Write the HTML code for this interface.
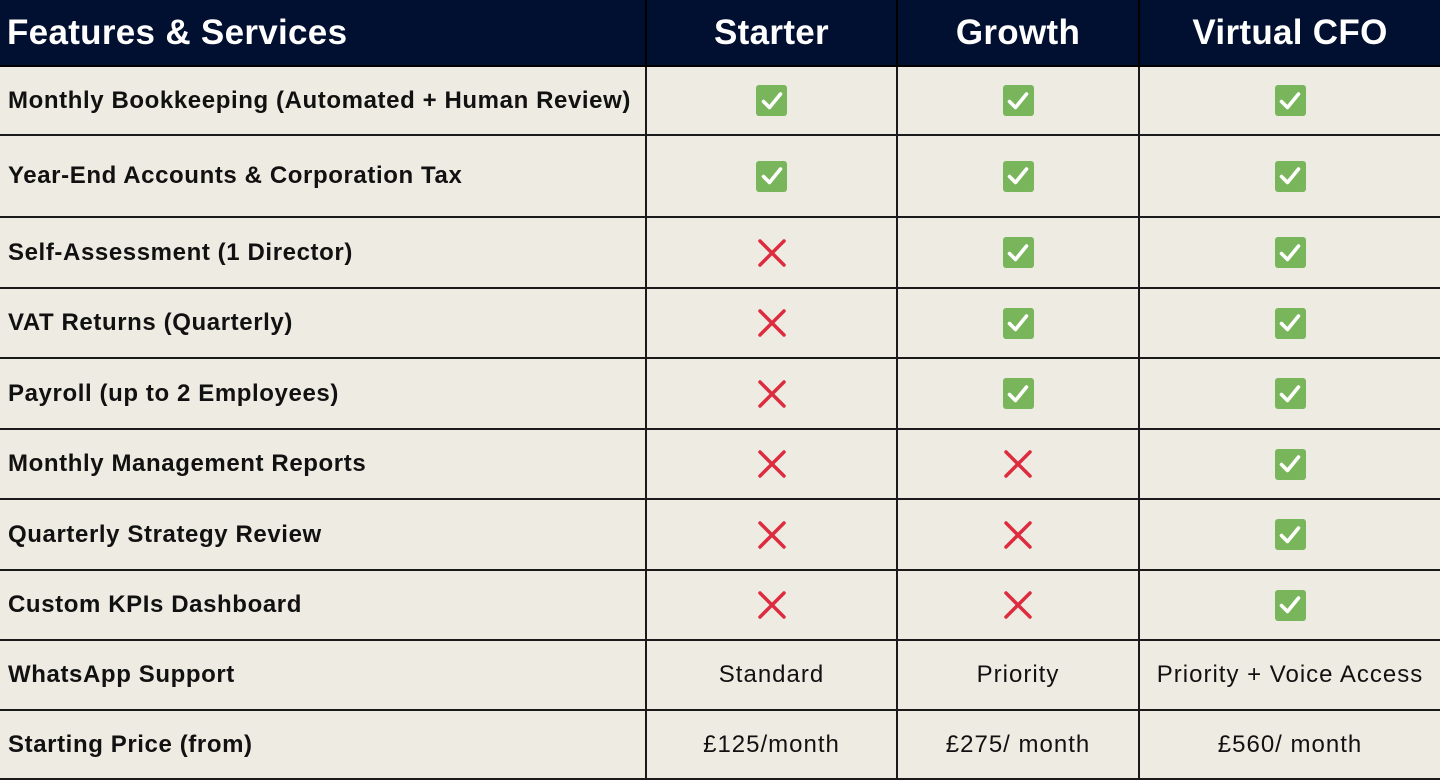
<!DOCTYPE html>
<html><head><meta charset="utf-8"><style>
body{margin:0;width:1440px;height:780px;background:#eeebe3;font-family:"Liberation Sans",sans-serif;overflow:hidden;position:relative}
.c{position:absolute;box-sizing:border-box;display:flex;align-items:center;border-right:2px solid #1a1a1a;border-bottom:2px solid #1a1a1a}
.h{background:#010f30;color:#fff;font-weight:bold;font-size:35px;border-color:#000}
.lbl{font-weight:bold;font-size:24px;letter-spacing:0.6px;color:#111;padding-left:8px}
.val{justify-content:center;font-size:24px;letter-spacing:1px;color:#111}
.chk{width:31px;height:31px;background:#79b55a;border-radius:3px;display:flex;align-items:center;justify-content:center}
</style></head><body>
<script>
const cols=["Features & Services","Starter","Growth","Virtual CFO"];
const features=["Monthly Bookkeeping (Automated + Human Review)","Year-End Accounts & Corporation Tax","Self-Assessment (1 Director)","VAT Returns (Quarterly)","Payroll (up to 2 Employees)","Monthly Management Reports","Quarterly Strategy Review","Custom KPIs Dashboard","WhatsApp Support","Starting Price (from)"];
const starter=[1,1,0,0,0,0,0,0,"Standard","£125/month"];
const growth=[1,1,1,1,1,0,0,0,"Priority","£275/ month"];
const cfo=[1,1,1,1,1,1,1,1,"Priority + Voice Access","£560/ month"];
const xs=[0,647,898,1140,1440];
const ys=[0,67,136,218,289,359,430,500,571,641,711,780];
const check='<svg width="22" height="20" viewBox="0 0 22 20"><path d="M2.5 10.5 L8.5 16.5 L19.5 3" fill="none" stroke="#fff" stroke-width="3.6" stroke-linecap="round" stroke-linejoin="round"/></svg>';
const cross='<svg width="30" height="30" viewBox="0 0 30 30"><path d="M3 3 L27 27 M27 3 L3 27" stroke="#dd2c3e" stroke-width="3.5" stroke-linecap="round"/></svg>';
function cell(x0,x1,y0,y1,cls,html,name){
  const d=document.createElement('div');
  d.className='c '+cls;
  d.style.cssText=`left:${x0}px;top:${y0}px;width:${x1-x0+(x1===1440?2:0)}px;height:${y1-y0}px`;
  d.innerHTML=html;
  
  
  document.body.appendChild(d);
}
cols.forEach((c,i)=>cell(xs[i],xs[i+1],ys[0],ys[1],'h '+(i?'val':'lbl'),c,'header-'+i));
document.querySelectorAll('.h').forEach(e=>{e.style.fontSize='35px';e.style.letterSpacing='0.3px';e.style.color='#fff';if(e.classList.contains('lbl'))e.style.paddingLeft='7px'});
const series=[starter,growth,cfo];
features.forEach((f,r)=>{
  cell(xs[0],xs[1],ys[r+1],ys[r+2],'lbl',f,'feature-label');
  series.forEach((s,k)=>{
    const v=s[r];
    const html=v===1?'<div class="chk">'+check+'</div>':v===0?cross:v;
    cell(xs[k+1],xs[k+2],ys[r+1],ys[r+2],'val',html,v===1?'check-icon':v===0?'cross-icon':'value-cell');
  });
});
</script>
</body></html>
